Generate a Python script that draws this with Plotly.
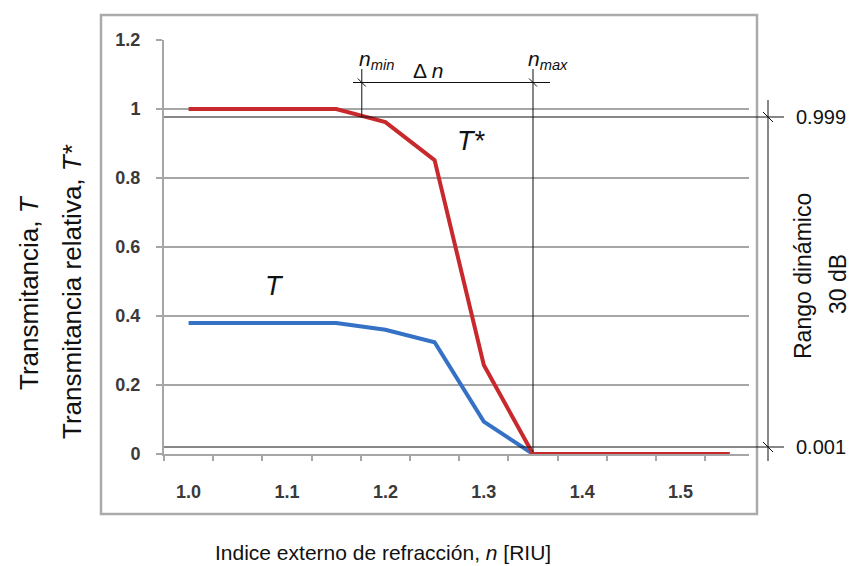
import plotly.graph_objects as go

# External refractive index of the medium (RIU)
n_riu = [1.00, 1.05, 1.10, 1.15, 1.20, 1.25, 1.30, 1.35, 1.40, 1.45, 1.50, 1.55]
# Relative transmittance T*
t_rel = [1.0, 1.0, 1.0, 1.0, 0.962, 0.852, 0.258, 0.0, 0.0, 0.0, 0.0, 0.0]
# Transmittance T
t_abs = [0.38, 0.38, 0.38, 0.38, 0.36, 0.324, 0.094, 0.0, None, None, None, None]

y_tick_vals = [0, 0.2, 0.4, 0.6, 0.8, 1.0, 1.2]
y_tick_text = ["0", "0.2", "0.4", "0.6", "0.8", "1", "1.2"]
x_tick_vals = [1.0, 1.1, 1.2, 1.3, 1.4, 1.5]
x_tick_text = ["1.0", "1.1", "1.2", "1.3", "1.4", "1.5"]

# Limits of the measurable range
n_min = 1.176
n_max = 1.35

W, H = 850, 566
L, R, T, B = 164, 749, 40, 454
X_RANGE = [0.975, 0.975 + (R - L) / 984.0]

FONT = "Liberation Sans, Arial, sans-serif"
GRID = "#a6a6a6"
INK = "#111111"


def px(xp):
    """Horizontal pixel -> paper fraction."""
    return (xp - L) / (R - L)


def py(yp):
    """Vertical pixel -> paper fraction."""
    return (B - yp) / (B - T)


def xd(v):
    """Data x -> pixel."""
    return L + (v - X_RANGE[0]) / (X_RANGE[1] - X_RANGE[0]) * (R - L)


fig = go.Figure()
fig.add_trace(go.Scatter(x=n_riu, y=t_abs, mode="lines",
                         line=dict(color="#3572c6", width=4), name="T"))
fig.add_trace(go.Scatter(x=n_riu, y=t_rel, mode="lines",
                         line=dict(color="#c8292c", width=4), name="T*"))

shapes = []


def seg(x0, y0, x1, y1, color=INK, width=1, layer="above"):
    shapes.append(dict(type="line", xref="paper", yref="paper",
                       x0=px(x0), y0=py(y0), x1=px(x1), y1=py(y1),
                       line=dict(color=color, width=width), layer=layer))


def slash(xc, yc, s=5):
    seg(xc - s, yc - s, xc + s, yc + s)


# chart-area frame
shapes.append(dict(type="rect", xref="paper", yref="paper",
                   x0=px(101), x1=px(757), y0=py(514), y1=py(15),
                   line=dict(color="#ababab", width=2.5), layer="below"))

x_nmin = xd(n_min)
x_nmax = xd(n_max)
y_hi, y_lo, y_dim = 117, 447, 82.5
x_rng = 768

# dynamic-range guides
seg(L, y_hi, 784, y_hi)
seg(L, y_lo, 784, y_lo)
seg(x_rng, 100, x_rng, 461)
slash(x_rng, y_hi)
slash(x_rng, y_lo)

# Δn dimension
seg(353, y_dim, 550, y_dim)
seg(x_nmin, 69, x_nmin, y_hi)
seg(x_nmax, 69, x_nmax, 452)
slash(x_nmin, y_dim, 4)
slash(x_nmax, y_dim, 4)

annotations = []


def label(text, xp, yp, size, angle=0, xanchor="center", color=INK):
    annotations.append(dict(text=text, xref="paper", yref="paper",
                            x=px(xp), y=py(yp), xanchor=xanchor, yanchor="middle",
                            showarrow=False, textangle=angle,
                            font=dict(family=FONT, size=size, color=color)))


label("Transmitancia, <i>T</i>", 29, 293, 26, angle=-90)
label("Transmitancia relativa, <i>T*</i>", 72, 292, 26, angle=-90)
label("Indice externo de refracción, <i>n</i> [RIU]", 383, 552, 21)
label("Rango dinámico", 803, 276, 23, angle=-90)
label("30 dB", 838, 284, 23, angle=-90)
label("0.999", 794, 117, 20, xanchor="left")
label("0.001", 794, 447, 20, xanchor="left")
label("<i>T*</i>", 471, 141, 27)
label("<i>T</i>", 274, 286, 27)
label("<i>n</i><sub><i>min</i></sub>", 376, 60, 21)
label("Δ <i>n</i>", 428, 70, 21)
label("<i>n</i><sub><i>max</i></sub>", 548, 60, 21)

fig.update_layout(
    width=W, height=H,
    margin=dict(l=L, r=W - R, t=T, b=H - B, pad=0),
    paper_bgcolor="white", plot_bgcolor="white",
    showlegend=False,
    shapes=shapes, annotations=annotations,
    xaxis=dict(range=X_RANGE, showgrid=False, zeroline=False,
               showline=True, linecolor=GRID, linewidth=2,
               tickmode="array", tickvals=x_tick_vals, ticktext=x_tick_text,
               ticks="", ticklabelstandoff=20,
               tickfont=dict(family=FONT, size=18, color="#3a3a3a", weight="bold"),
               minor=dict(tick0=0.975, dtick=0.05, ticks="outside", ticklen=5,
                          tickwidth=2, tickcolor=GRID)),
    yaxis=dict(range=[0, 1.2], showgrid=True, gridcolor=GRID, gridwidth=2,
               zeroline=False, showline=True, linecolor=GRID, linewidth=2,
               tickmode="array", tickvals=y_tick_vals, ticktext=y_tick_text,
               ticks="outside", ticklen=6, tickwidth=2, tickcolor=GRID,
               ticklabelstandoff=12,
               tickfont=dict(family=FONT, size=18, color="#3a3a3a", weight="bold")),
)

fig.write_html("out.html")
